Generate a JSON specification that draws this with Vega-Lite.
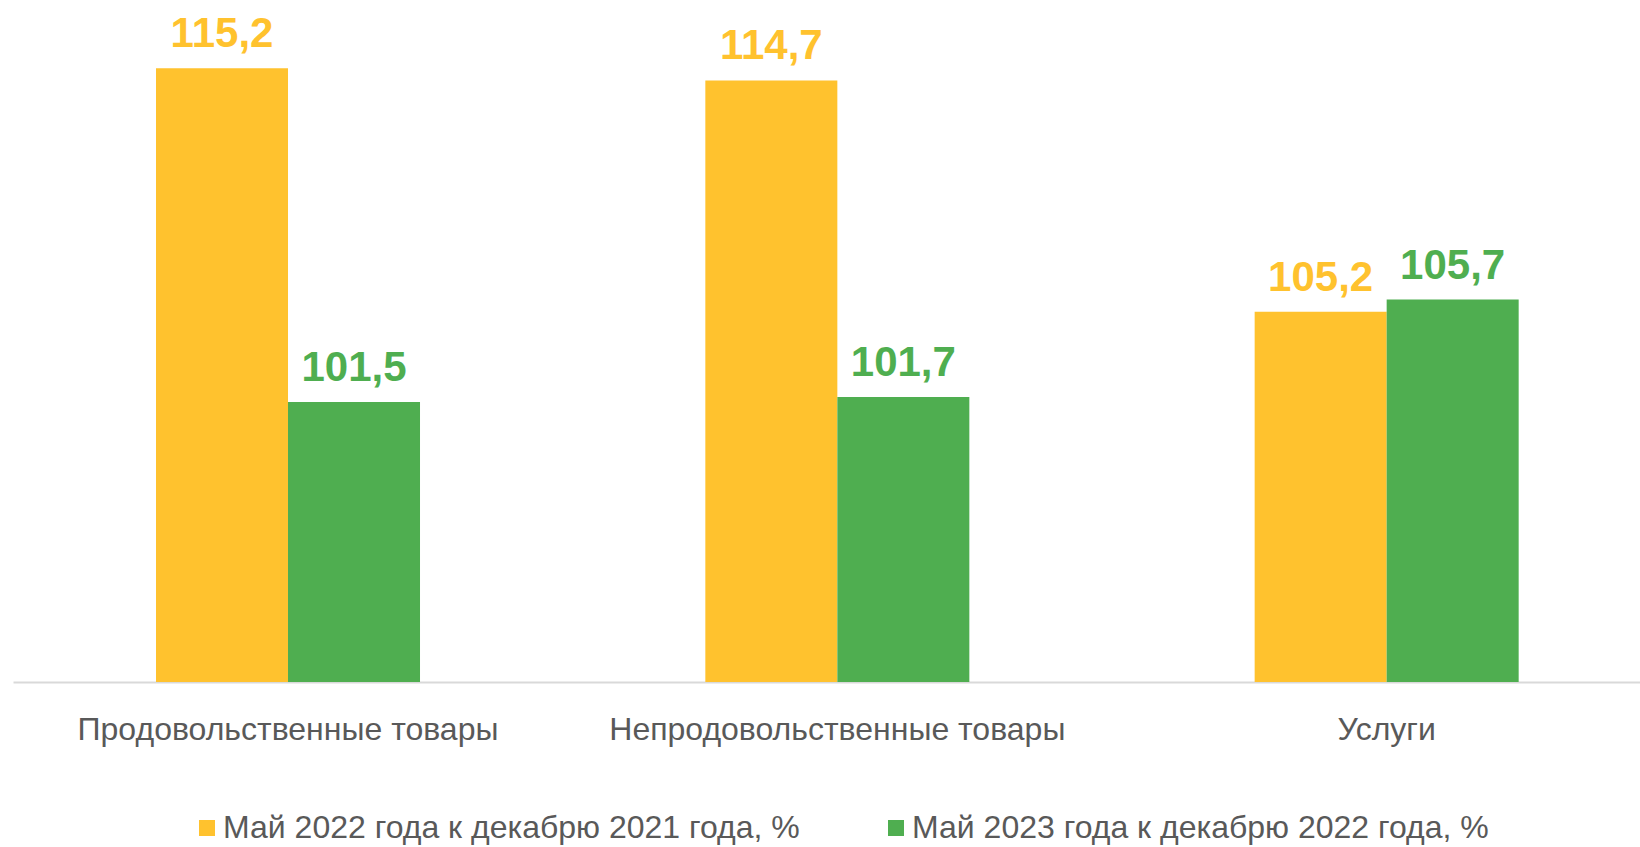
{
  "$schema": "https://vega.github.io/schema/vega-lite/v6.json",
  "width": 1627,
  "height": 682,
  "autosize": {"type": "none"},
  "padding": {"left": 13, "top": 0, "right": 0, "bottom": 165},
  "background": "white",
  "config": {"view": {"stroke": null}, "font": "Liberation Sans"},
  "data": {
    "values": [
      {"cat": "Продовольственные товары", "series": "Май 2022 года к декабрю 2021 года, %", "value": 115.2, "label": "115,2"},
      {"cat": "Продовольственные товары", "series": "Май 2023 года к декабрю 2022 года, %", "value": 101.5, "label": "101,5"},
      {"cat": "Непродовольственные товары", "series": "Май 2022 года к декабрю 2021 года, %", "value": 114.7, "label": "114,7"},
      {"cat": "Непродовольственные товары", "series": "Май 2023 года к декабрю 2022 года, %", "value": 101.7, "label": "101,7"},
      {"cat": "Услуги", "series": "Май 2022 года к декабрю 2021 года, %", "value": 105.2, "label": "105,2"},
      {"cat": "Услуги", "series": "Май 2023 года к декабрю 2022 года, %", "value": 105.7, "label": "105,7"}
    ]
  },
  "encoding": {
    "x": {
      "field": "cat", "type": "nominal",
      "sort": ["Продовольственные товары", "Непродовольственные товары", "Услуги"],
      "scale": {"paddingInner": 0.5194, "paddingOuter": 0.2406, "align": 0.541},
      "axis": {
        "title": null, "labelAngle": 0, "labelFontSize": 32, "labelColor": "#595959",
        "labelFont": "Liberation Sans", "labelPadding": 32, "ticks": false, "tickSize": 0,
        "domainColor": "#d9d9d9", "domainWidth": 2, "labelLimit": 0
      }
    },
    "xOffset": {
      "field": "series", "type": "nominal",
      "sort": ["Май 2022 года к декабрю 2021 года, %", "Май 2023 года к декабрю 2022 года, %"],
      "scale": {"paddingInner": 0, "paddingOuter": 0}
    },
    "y": {
      "field": "value", "type": "quantitative",
      "scale": {"domain": [90, 118], "zero": false, "nice": false},
      "axis": null
    },
    "color": {
      "field": "series", "type": "nominal",
      "sort": ["Май 2022 года к декабрю 2021 года, %", "Май 2023 года к декабрю 2022 года, %"],
      "scale": {"domain": ["Май 2022 года к декабрю 2021 года, %", "Май 2023 года к декабрю 2022 года, %"], "range": ["#FFC22E", "#4FAE50"]},
      "legend": {
        "orient": "none", "legendX": 178, "legendY": 812, "direction": "horizontal",
        "title": null, "symbolType": "square", "symbolSize": 256, "symbolStrokeWidth": 0,
        "labelFontSize": 32, "labelColor": "#595959", "labelFont": "Liberation Sans",
        "labelOffset": 0, "columnPadding": 80, "padding": 0, "labelLimit": 0
      }
    }
  },
  "layer": [
    {"mark": {"type": "bar"}, "encoding": {"y2": {"datum": 90}}},
    {
      "mark": {"type": "text", "baseline": "alphabetic", "dy": -21, "fontSize": 42, "fontWeight": "bold", "font": "Liberation Sans"},
      "encoding": {"text": {"field": "label"}}
    }
  ]
}
